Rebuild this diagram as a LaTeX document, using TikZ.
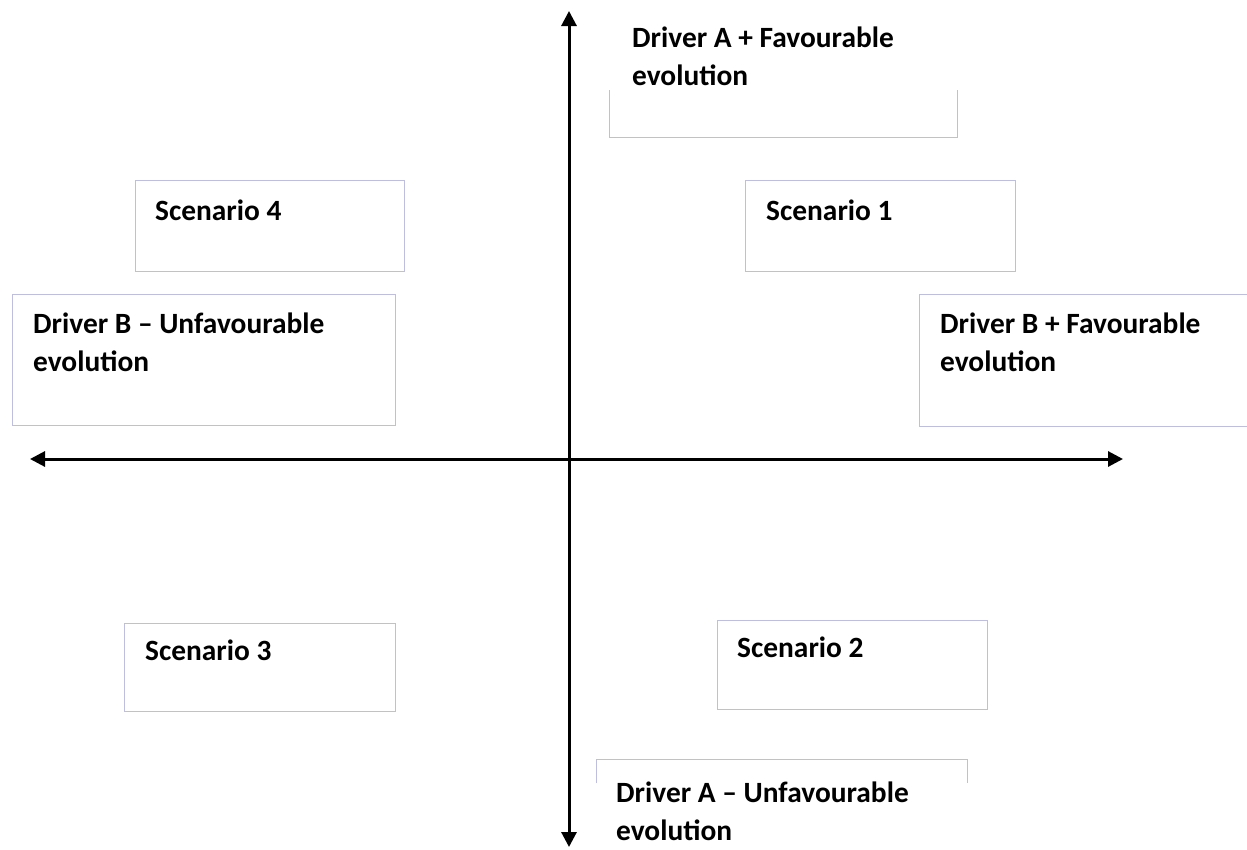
\documentclass[tikz,border=0pt]{standalone}
\usepackage{fontspec}
\setmainfont{Carlito}
\usetikzlibrary{arrows.meta}
\definecolor{boxline}{RGB}{190,190,222}
\tikzset{
  box/.style={draw=boxline, line width=1pt},
  lbl/.style={anchor=base west, align=left, inner sep=0pt, font=\bfseries\fontsize{29.4}{38}\selectfont},
  axis/.style={line width=3pt, {Triangle[length=15pt,width=15pt]}-{Triangle[length=15pt,width=15pt]}}
}
\begin{document}
\begin{tikzpicture}[x=1pt,y=-1pt]
\useasboundingbox (0,0) rectangle (1247,849);
% boxes
\draw[box] (609,90) -- (609,137) -- (957,137) -- (957,90);
\draw[box] (745,180) rectangle (1015,271);
\draw[box] (135,180) rectangle (404,271);
\draw[box] (12,294) rectangle (395,425);
\draw[box] (1260,294) -- (919,294) -- (919,426) -- (1260,426);
\draw[box] (124,623) rectangle (395,711);
\draw[box] (717,620) rectangle (987,709);
\draw[box] (596,783) -- (596,759) -- (967,759) -- (967,783);
% axes
\coordinate (ytop) at (569,11);
\coordinate (ybot) at (569,847);
\coordinate (xl) at (30,459);
\coordinate (xr) at (1123,459);
\draw[axis] (ytop) -- (ybot);
\draw[axis] (xl) -- (xr);
% labels (base = baseline of last line)
\node[lbl] (aplus) at (632,85) {Driver A + Favourable\\evolution};
\node[lbl] (s1) at (766,220) {Scenario 1};
\node[lbl] (s4) at (155,220) {Scenario 4};
\node[lbl] (bminus) at (33,371) {Driver B -- Unfavourable\\evolution};
\node[lbl] (bplus) at (940,371) {Driver B + Favourable\\evolution};
\node[lbl] (s3) at (145,660) {Scenario 3};
\node[lbl] (s2) at (737,657) {Scenario 2};
\node[lbl] (aminus) at (616,840) {Driver A -- Unfavourable\\evolution};
\end{tikzpicture}
\end{document}
